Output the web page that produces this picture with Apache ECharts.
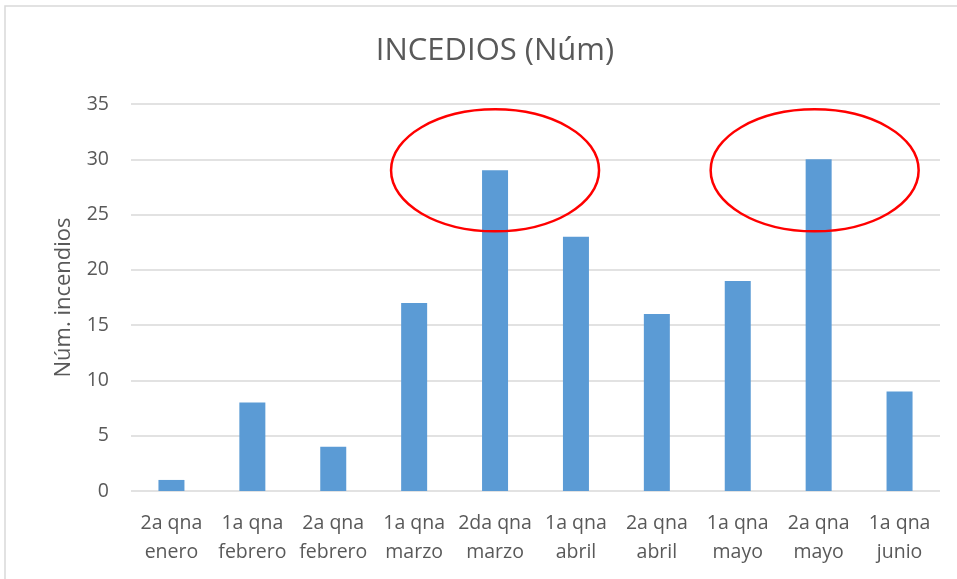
<!DOCTYPE html>
<html lang="es">
<head>
    <meta charset="UTF-8">
    <title>INCEDIOS</title>
    <script src="https://cdn.jsdelivr.net/npm/echarts@6/dist/echarts.min.js"></script>
</head>
<body style="margin:0">

<div id="main" style="width: 957px;height:579px;"></div>

<script type="text/javascript">
    var categories = ['2a qna\nenero', '1a qna\nfebrero', '2a qna\nfebrero', '1a qna\nmarzo', '2da qna\nmarzo',
        '1a qna\nabril', '2a qna\nabril', '1a qna\nmayo', '2a qna\nmayo', '1a qna\njunio'];
    var incendios = [1, 8, 4, 17, 29, 23, 16, 19, 30, 9];
    // marcas rojas: [categoria, valor] del centro de cada elipse
    var marcados = [[4, 29], [8, 29]];

    var myChart = echarts.init(document.getElementById('main'));
    var fuente = '"Open Sans", sans-serif';

    var option = {
        animation: false,
        backgroundColor: '#fff',
        title: {
            text: 'INCEDIOS (Núm)',
            left: 490,
            textAlign: 'center',
            top: 31,
            textStyle: { color: '#595959', fontSize: 31, fontWeight: 'normal', fontFamily: fuente }
        },
        grid: { left: 131, right: 17, top: 104, bottom: 88 },
        xAxis: {
            type: 'category',
            data: categories,
            axisLine: { show: false },
            axisTick: { show: false },
            axisLabel: {
                color: '#595959', fontSize: 19.5, fontFamily: fuente,
                lineHeight: 29, margin: 18, interval: 0
            }
        },
        yAxis: {
            type: 'value',
            min: 0, max: 35, interval: 5,
            name: 'Núm. incendios',
            nameLocation: 'middle',
            nameGap: 56,
            nameTextStyle: { color: '#595959', fontSize: 22, fontFamily: fuente },
            axisLabel: { color: '#595959', fontSize: 19.5, fontFamily: fuente, margin: 22 },
            splitLine: { lineStyle: { color: '#d9d9d9', width: 1.5 } }
        },
        series: [{
            name: 'Incendios',
            type: 'bar',
            data: incendios,
            barWidth: 26,
            itemStyle: { color: '#5b9bd5' }
        }]
    };
    myChart.setOption(option);

    var graficos = [{
        type: 'rect',
        shape: { x: 5, y: 6, width: 980, height: 600 },
        style: { fill: null, stroke: '#d9d9d9', lineWidth: 1.5 },
        silent: true
    }];
    marcados.forEach(function (m) {
        var p = myChart.convertToPixel({ seriesIndex: 0 }, m);
        graficos.push({
            type: 'ellipse',
            shape: { cx: p[0] - (m[0] === 8 ? 4 : 0), cy: p[1], rx: 104, ry: 61 },
            style: { fill: null, stroke: '#ff0000', lineWidth: 2.5 },
            z: 100
        });
    });
    myChart.setOption({ graphic: graficos });
</script>
</body>
</html>
